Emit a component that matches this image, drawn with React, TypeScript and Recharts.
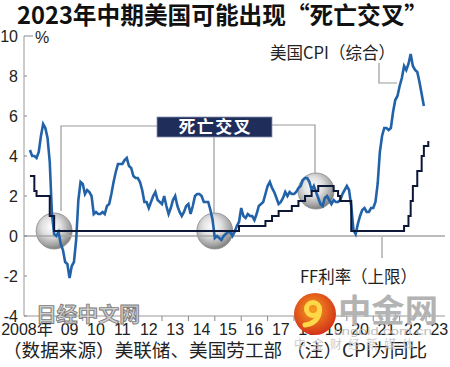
import { ComposedChart, Line, Scatter, XAxis, YAxis, ReferenceLine } from 'recharts';

// t = months since Jan 2008
const cpi2008 = [4.3, 4.0, 4.0, 3.9, 4.2, 5.0, 5.6, 5.4, 4.9, 3.7, 1.1, 0.1];
const cpi2009 = [0.0, 0.2, -0.4, -0.7, -1.3, -1.4, -2.1, -1.5, -1.3, -0.2, 1.8, 2.7];
const cpi2010 = [2.6, 2.1, 2.3, 2.2, 2.0, 1.1, 1.2, 1.1, 1.1, 1.2, 1.1, 1.5];
const cpi2011 = [1.6, 2.1, 2.7, 3.2, 3.6, 3.6, 3.6, 3.8, 3.9, 3.5, 3.4, 3.0];
const cpi2012 = [2.9, 2.9, 2.7, 2.3, 1.7, 1.7, 1.4, 1.7, 2.0, 2.2, 1.8, 1.7];
const cpi2013 = [1.6, 2.0, 1.5, 1.1, 1.4, 1.8, 2.0, 1.5, 1.2, 1.0, 1.2, 1.5];
const cpi2014 = [1.6, 1.1, 1.5, 2.0, 2.1, 2.1, 2.0, 1.7, 1.7, 1.7, 1.3, 0.8];
const cpi2015 = [-0.1, 0.0, -0.1, -0.2, 0.0, 0.1, 0.2, 0.2, 0.0, 0.2, 0.5, 0.7];
const cpi2016 = [1.4, 1.0, 0.9, 1.1, 1.0, 1.0, 0.8, 1.1, 1.5, 1.6, 1.7, 2.1];
const cpi2017 = [2.5, 2.7, 2.4, 2.2, 1.9, 1.6, 1.7, 1.9, 2.2, 2.0, 2.2, 2.1];
const cpi2018 = [2.1, 2.2, 2.4, 2.5, 2.8, 2.9, 2.9, 2.7, 2.3, 2.5, 2.2, 1.9];
const cpi2019 = [1.6, 1.5, 1.9, 2.0, 1.8, 1.6, 1.8, 1.7, 1.7, 1.8, 2.1, 2.3];
const cpi2020 = [2.5, 2.3, 1.5, 0.3, 0.1, 0.6, 1.0, 1.3, 1.4, 1.2, 1.2, 1.4];
const cpi2021 = [1.4, 1.7, 2.6, 4.2, 5.0, 5.4, 5.4, 5.3, 5.4, 6.2, 6.8, 7.0];
const cpi2022 = [7.5, 7.9, 8.5, 8.3, 8.6, 9.1, 8.5, 8.3, 8.2, 7.7, 7.1, 6.5];

const cpiYoY = [
  ...cpi2008, ...cpi2009, ...cpi2010, ...cpi2011, ...cpi2012, ...cpi2013, ...cpi2014, ...cpi2015,
  ...cpi2016, ...cpi2017, ...cpi2018, ...cpi2019, ...cpi2020, ...cpi2021, ...cpi2022,
];

// FF rate upper bound, month where it changed -> new level
const ffMonths = [0, 2, 3, 9, 11, 95, 107, 110, 113, 119, 122, 125, 128, 131, 138, 140, 141, 146, 170, 172, 173, 174, 176, 178, 179, 181];
const ffUpper = [3.0, 2.25, 2.0, 1.0, 0.25, 0.5, 0.75, 1.0, 1.25, 1.5, 1.75, 2.0, 2.25, 2.5, 2.25, 2.0, 1.75, 0.25, 0.5, 1.0, 1.75, 2.5, 3.25, 4.0, 4.5, 4.75];

// "death cross" markers
const crossMonths = [11, 84, 130];
const crossLevels = [0.25, 0.25, 2.25];

const yearLabels = ['2008年', '09', '10', '11', '12', '13', '14', '15', '16', '17', '18', '19', '20', '21', '22', '23'];
const yTicks = [-4, -2, 0, 2, 4, 6, 8, 10];

const cpiData = cpiYoY.map((v, i) => ({ t: i, v }));
const ffData = ffMonths.map((t, i) => ({ t, v: ffUpper[i] }));
const crossData = crossMonths.map((t, i) => ({ t, v: crossLevels[i] }));

const xTicks: number[] = [];
yearLabels.forEach((_, i) => {
  if (i > 0) xTicks.push(i * 12);
  xTicks.push(i * 12 + 6);
});

const NUM_FONT = "'Liberation Sans', 'Noto Sans CJK SC', sans-serif";
const CJK_FONT = "'Noto Sans CJK SC', sans-serif";

const XTick = (props: any) => {
  const { x, y, payload } = props;
  const v = payload.value as number;
  if (v % 12 === 0) {
    return <line x1={x} x2={x} y1={y - 8} y2={y - 3} stroke="#888" strokeWidth={1} />;
  }
  const idx = (v - 6) / 12;
  const first = idx === 0;
  return (
    <text x={first ? x - 42 : x} y={y} dy="0.71em" textAnchor={first ? 'start' : 'middle'} fontSize={16} fontFamily={NUM_FONT} fill="#222">
      {yearLabels[idx]}
    </text>
  );
};

const YTick = (props: any) => {
  const { x, y, payload } = props;
  const axisX = x + 7;
  const len = payload.value === 10 ? 9 : 3;
  return (
    <g>
      <line x1={axisX} x2={axisX + len} y1={y} y2={y} stroke="#888" strokeWidth={1} />
      <text x={x + 1} y={y} dy="0.36em" textAnchor="end" fontSize={16} fontFamily={NUM_FONT} fill="#222">
        {payload.value}
      </text>
    </g>
  );
};

const Sphere = (props: any) => (
  <circle cx={props.cx} cy={props.cy} r={18} fill="url(#sphereFill)" fillOpacity={0.9} stroke="#8a8a8a" strokeWidth={0.8} />
);

export default function App() {
  return (
    <div style={{ position: 'absolute', left: 0, top: 0, width: 450, height: 367, background: '#fff' }}>
      <ComposedChart width={450} height={367} margin={{ top: 36, right: 5, bottom: 21, left: 0 }}>
        <defs>
          <radialGradient id="sphereFill" cx="42%" cy="38%" r="60%">
            <stop offset="0%" stopColor="#ffffff" />
            <stop offset="45%" stopColor="#dcdcdc" />
            <stop offset="85%" stopColor="#9a9a9a" />
            <stop offset="100%" stopColor="#7a7a7a" />
          </radialGradient>
        </defs>
        <XAxis
          type="number"
          dataKey="t"
          domain={[-2.7, 188.6]}
          allowDataOverflow
          ticks={xTicks}
          interval={0}
          tick={<XTick />}
          tickLine={false}
          tickSize={5}
          tickMargin={3}
          height={30}
          axisLine={{ stroke: '#999', strokeWidth: 1 }}
        />
        <YAxis
          type="number"
          domain={[-4, 10]}
          ticks={yTicks}
          interval={0}
          tick={<YTick />}
          tickLine={false}
          tickSize={4}
          tickMargin={3}
          width={24}
          axisLine={{ stroke: '#999', strokeWidth: 1 }}
        />
        <ReferenceLine y={0} stroke="#a6a6a6" strokeWidth={1.5} />
        <Scatter data={crossData} dataKey="v" shape={<Sphere />} zIndex={50} isAnimationActive={false} />
        <Line data={cpiData} dataKey="v" type="linear" stroke="#2262a8" strokeWidth={2.6} dot={false} isAnimationActive={false} />
        <Line data={ffData} dataKey="v" type="stepAfter" stroke="#0d1838" strokeWidth={2} dot={false} isAnimationActive={false} />
      </ComposedChart>

      <svg width={450} height={367} style={{ position: 'absolute', left: 0, top: 0, pointerEvents: 'none' }}>
        <text x={17} y={24} fontSize={24} fontWeight="bold" fontFamily={CJK_FONT} fill="#111" textLength={411} lengthAdjust="spacingAndGlyphs">
          2023年中期美国可能出现“死亡交叉”
        </text>
        <text x={35} y={43} fontSize={16} fontFamily={NUM_FONT} fill="#222">%</text>

        {/* annotation brackets */}
        <polyline points="61,211 61,126 157,126" fill="none" stroke="#9a9a9a" strokeWidth={1.2} />
        <line x1={214} x2={214} y1={137} y2={213} stroke="#9a9a9a" strokeWidth={1.2} />
        <polyline points="272,125 315,125 315,173" fill="none" stroke="#9a9a9a" strokeWidth={1.2} />
        <rect x={157} y={117} width={115} height={20} fill="#1f2d5a" stroke="#8a93b0" strokeWidth={0.8} />
        <text x={214.5} y={133} textAnchor="middle" fontSize={17} fontWeight="bold" fontFamily={CJK_FONT} fill="#fff" textLength={72} lengthAdjust="spacing">
          死亡交叉
        </text>

        <text x={270} y={59} fontSize={17} fontFamily={CJK_FONT} fill="#222" textLength={125} lengthAdjust="spacingAndGlyphs">
          美国CPI（综合）
        </text>
        <polyline points="379,63 379,83 397,83" fill="none" stroke="#9a9a9a" strokeWidth={1.2} />

        <line x1={382} x2={382} y1={237} y2={258} stroke="#9a9a9a" strokeWidth={1.2} />
        <text x={300} y={283} fontSize={17} fontFamily={CJK_FONT} fill="#222" textLength={117} lengthAdjust="spacingAndGlyphs">
          FF利率（上限）
        </text>

        <text x={3} y={357} fontSize={18} fontFamily={CJK_FONT} fill="#222" textLength={424} lengthAdjust="spacingAndGlyphs">
          （数据来源）美联储、美国劳工部 （注）CPI为同比
        </text>

        {/* watermarks */}
        <text x={36} y={322} fontSize={20} fontWeight="bold" fontFamily={CJK_FONT} fill="#cfcfcf" stroke="#7d7d7d" strokeWidth={0.9} textLength={104} lengthAdjust="spacingAndGlyphs">
          日经中文网
        </text>
        <defs>
          <radialGradient id="logoFill" cx="45%" cy="40%" r="60%">
            <stop offset="0%" stopColor="#f7a01e" />
            <stop offset="100%" stopColor="#d4321a" />
          </radialGradient>
        </defs>
        <circle cx={315} cy={314} r={21} fill="url(#logoFill)" />
        <circle cx={313} cy={309} r={6.5} fill="none" stroke="#ffd84a" strokeWidth={5} />
        <path d="M319.5,309 C320,318 314,324 305,325" fill="none" stroke="#ffd84a" strokeWidth={5} strokeLinecap="round" />
        <text x={338} y={322} fontSize={32} fontWeight="bold" fontFamily={CJK_FONT} fill="#b3b3b3" textLength={100} lengthAdjust="spacingAndGlyphs">
          中金网
        </text>
        <text x={334} y={335} fontSize={11} fontFamily="'Liberation Sans', sans-serif" fill="#b8b8b8" opacity={0.9} textLength={98} lengthAdjust="spacingAndGlyphs">
          cngold.com.cn
        </text>
        <text x={294} y={349} fontSize={12} fontFamily={CJK_FONT} fill="#c4c4c4" opacity={0.85} textLength={120} lengthAdjust="spacing">
          中金财经新媒体
        </text>
      </svg>
    </div>
  );
}
